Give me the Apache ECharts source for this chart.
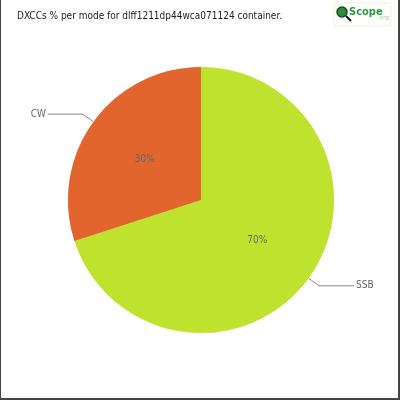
<!DOCTYPE html>
<html>
<head>
<meta charset="utf-8">
<script src="https://cdn.jsdelivr.net/npm/echarts@6/dist/echarts.min.js"></script>
<style>
  html, body { margin: 0; padding: 0; background: #fff; }
  #chart { width: 400px; height: 400px; box-sizing: border-box;
           border-left: 1px solid #444; border-right: 2px solid #444; border-bottom: 2px solid #444; }
</style>
</head>
<body>
<div id="chart"></div>
<script>
const titleText = 'DXCCs % per mode for dlff1211dp44wca071124 container.';
const modes = ['SSB', 'CW'];
const shares = [70, 30];
const colors = ['#bfe22f', '#e2652e'];

const chart = echarts.init(document.getElementById('chart'));

const pieData = modes.map((m, i) => ({ name: m, value: shares[i], itemStyle: { color: colors[i] } }));

// common pie geometry
const pieBase = {
    type: 'pie',
    center: [200, 200],
    radius: [0, 133],
    startAngle: 90,
    clockwise: true,
    animation: false,
    itemStyle: { borderColor: '#fff', borderWidth: 0.5 }
};

chart.setOption({
    backgroundColor: '#fff',
    title: {
        text: titleText,
        left: 11, top: 6,
        textStyle: { fontFamily: 'DejaVu Sans Condensed', fontSize: 10, fontWeight: 'normal', color: '#222' }
    },
    graphic: [
        { type: 'rect', shape: { x: 333, y: 3, width: 57, height: 23, r: 3 },
          style: { fill: '#fff', stroke: '#eef2d8', lineWidth: 1 } },
        { type: 'circle', shape: { cx: 341, cy: 12, r: 5 },
          style: { fill: '#2f8a3c', stroke: '#1a4a22', lineWidth: 1.5 } },
        { type: 'line', shape: { x1: 345, y1: 16, x2: 350, y2: 21 },
          style: { stroke: '#111', lineWidth: 2 } },
        { type: 'text', x: 348, y: 7,
          style: { text: 'Scope', fill: '#2a9a3a', font: 'bold 11px "DejaVu Sans Condensed"' } },
        { type: 'text', x: 377, y: 14,
          style: { text: '.org', fill: '#9fd08a', font: '6px "Open Sans"' } }
    ],
    series: [
        Object.assign({}, pieBase, {
            data: pieData,
            label: {
                show: true, position: 'outside',
                formatter: '{b}',
                fontFamily: 'DejaVu Sans Condensed', fontSize: 10, color: '#666',
                distanceToLabelLine: 2
            },
            labelLine: { show: true, length: 13, length2: 35, lineStyle: { color: '#888', width: 1 } }
        }),
        Object.assign({}, pieBase, {
            silent: true,
            data: pieData,
            itemStyle: { color: 'rgba(0,0,0,0)', borderWidth: 0 },
            label: {
                show: true, position: 'inside',
                formatter: '{c}%',
                fontFamily: 'DejaVu Sans Condensed', fontSize: 10, color: '#666'
            },
            labelLine: { show: false }
        })
    ]
});
</script>
</body>
</html>
